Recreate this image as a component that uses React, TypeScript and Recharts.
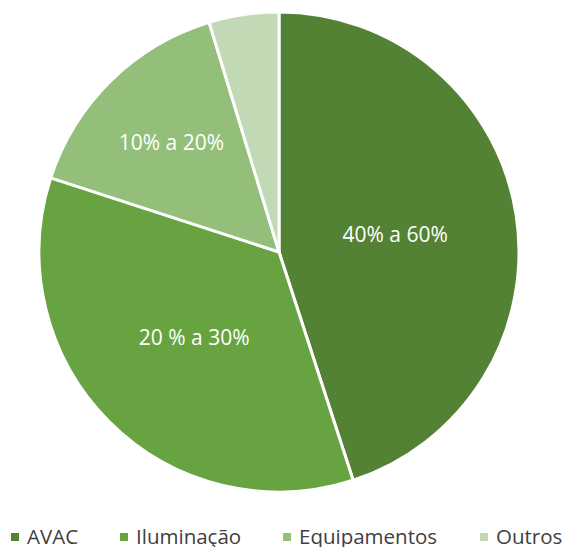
import React from 'react';
import { PieChart, Pie, Cell } from 'recharts';

const categories = ['AVAC', 'Iluminação', 'Equipamentos', 'Outros'];
const shares = [45, 35, 15.3, 4.7];
const rangeLabels = ['40% a 60%', '20 % a 30%', '10% a 20%', ''];

const COLORS = ['#548235', '#68A342', '#93BF7A', '#C1D9B4'];
// how far out (fraction of radius) each label sits, as in the original
const LABEL_POS = [0.49, 0.5, 0.64, 0.5];
// legend swatch x positions, to match the original spacing
const LEGEND_X = [11, 120, 283, 480];
const FONT = '"Open Sans", sans-serif';

const data = categories.map((name, i) => ({ name, value: shares[i], label: rangeLabels[i] }));

const RAD = Math.PI / 180;

const renderLabel = (props: any) => {
  const { cx, cy, midAngle, outerRadius, index } = props;
  const r = outerRadius * LABEL_POS[index];
  const x = cx + r * Math.cos(-midAngle * RAD);
  const y = cy + r * Math.sin(-midAngle * RAD);
  return (
    <text x={x} y={y} fill="#fff" textAnchor="middle" dominantBaseline="central"
      style={{ fontFamily: FONT, fontSize: 21 }}>
      {rangeLabels[index]}
    </text>
  );
};

const ChartLegend = () => (
  <div style={{ position: 'absolute', left: 0, top: 522, width: 563, height: 29, fontFamily: FONT, fontSize: 20.5, lineHeight: '29px', color: '#404040' }}>
    {categories.map((c, i) => (
      <div key={c} style={{ position: 'absolute', left: LEGEND_X[i], top: 0, height: 29, display: 'flex', alignItems: 'center' }}>
        <span style={{ width: 8, height: 8, background: COLORS[i], display: 'inline-block', marginRight: 8 }} />
        <span style={{ whiteSpace: 'nowrap' }}>{c}</span>
      </div>
    ))}
  </div>
);

export default function App() {
  return (
    <div style={{ position: 'absolute', left: 0, top: 0, width: 563, height: 547, background: '#fff' }}>
      <PieChart width={563} height={520} margin={{ top: 0, right: 0, bottom: 0, left: 0 }}>
        <Pie
          data={data}
          dataKey="value"
          nameKey="name"
          cx={279}
          cy={252}
          outerRadius={240}
          startAngle={90}
          endAngle={-270}
          stroke="#fff"
          strokeWidth={3}
          label={renderLabel}
          labelLine={false}
          isAnimationActive={false}
        >
          {data.map((d, i) => (
            <Cell key={d.name} fill={COLORS[i]} />
          ))}
        </Pie>
      </PieChart>
      <ChartLegend />
    </div>
  );
}
